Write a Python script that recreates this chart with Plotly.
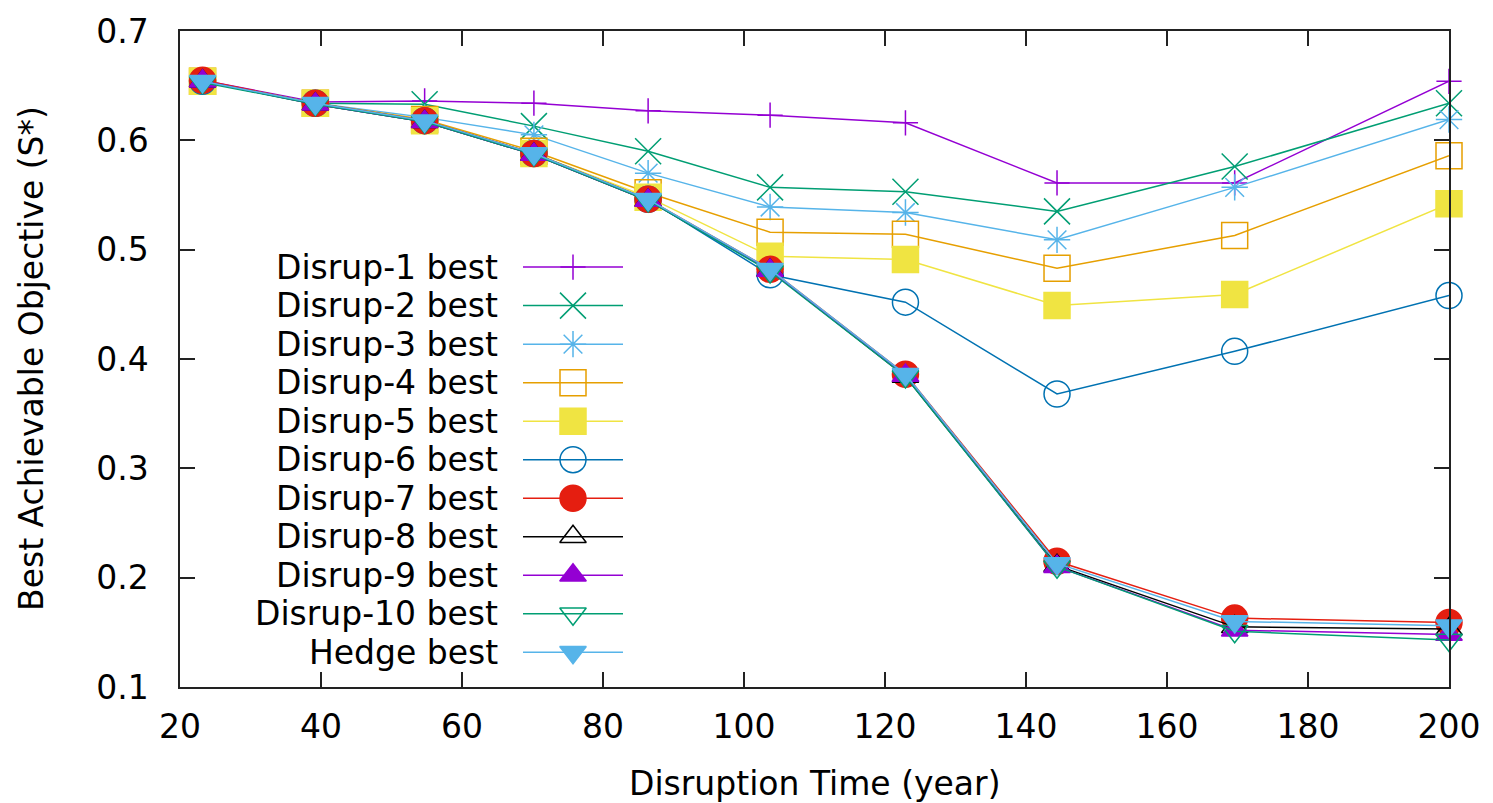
import plotly.graph_objects as go

# ---------------- data ----------------
x_years = [23.2, 39.2, 54.7, 70.2, 86.4, 103.7, 122.9, 144.4, 169.6, 200]

disrup_1 = [0.655, 0.635, 0.636, 0.634, 0.627, 0.623, 0.616, 0.561, 0.561, 0.654]
disrup_2 = [0.654, 0.634, 0.633, 0.613, 0.590, 0.557, 0.553, 0.535, 0.576, 0.634]
disrup_3 = [0.654, 0.634, 0.621, 0.605, 0.570, 0.539, 0.534, 0.509, 0.557, 0.619]
disrup_4 = [0.654, 0.634, 0.619, 0.590, 0.552, 0.516, 0.514, 0.483, 0.513, 0.586]
disrup_5 = [0.654, 0.634, 0.618, 0.588, 0.548, 0.494, 0.491, 0.449, 0.459, 0.542]
disrup_6 = [0.654, 0.634, 0.618, 0.588, 0.546, 0.477, 0.452, 0.368, 0.407, 0.458]
disrup_7 = [0.655, 0.634, 0.618, 0.588, 0.546, 0.482, 0.386, 0.215, 0.163, 0.159]
disrup_8 = [0.654, 0.633, 0.617, 0.587, 0.545, 0.481, 0.384, 0.211, 0.155, 0.153]
disrup_9 = [0.654, 0.633, 0.617, 0.587, 0.545, 0.481, 0.385, 0.210, 0.152, 0.148]
disrup_10 = [0.653, 0.633, 0.617, 0.587, 0.545, 0.480, 0.384, 0.210, 0.151, 0.143]
hedge = [0.654, 0.634, 0.618, 0.588, 0.546, 0.482, 0.386, 0.213, 0.160, 0.156]

series_names = ["Disrup-1 best", "Disrup-2 best", "Disrup-3 best", "Disrup-4 best",
                "Disrup-5 best", "Disrup-6 best", "Disrup-7 best", "Disrup-8 best",
                "Disrup-9 best", "Disrup-10 best", "Hedge best"]
series_values = [disrup_1, disrup_2, disrup_3, disrup_4, disrup_5, disrup_6,
                 disrup_7, disrup_8, disrup_9, disrup_10, hedge]

x_ticks = [20, 40, 60, 80, 100, 120, 140, 160, 180, 200]
y_ticks = [0.1, 0.2, 0.3, 0.4, 0.5, 0.6, 0.7]

# ---------------- styles ----------------
colors = ["#9400D3", "#009E73", "#56B4E9", "#E69F00", "#F0E442", "#0072B2",
          "#E51E10", "#000000", "#9400D3", "#009E73", "#56B4E9"]
symbols = ["cross-thin-open", "x-thin-open", "asterisk-open", "square-open", "square",
           "circle-open", "circle", "triangle-up-open", "triangle-up",
           "triangle-down-open", "triangle-down"]
sizes = [18, 26, 22, 26, 26, 26, 26, 23, 23, 23, 23]

FONT = "DejaVu Sans"
FS = 33

fig = go.Figure()

for name, vals, c, s, sz in zip(series_names, series_values, colors, symbols, sizes):
    fig.add_trace(go.Scatter(
        x=x_years, y=vals, name=name, mode="lines+markers",
        line=dict(color=c, width=1.5),
        marker=dict(symbol=s, size=sz, color=c, opacity=1,
                    line=dict(color=c, width=1.5)),
        cliponaxis=False, showlegend=False,
    ))

# ---------------- manual gnuplot-style legend (text left, sample right) ----------------
leg_text_right = 500
leg_line_x0, leg_mark_x, leg_line_x1 = 523, 573, 623
leg_y0, leg_dy = 260.7, 39.1
annotations = []
for i, (name, c, s, sz) in enumerate(zip(series_names, colors, symbols, sizes)):
    yy = leg_y0 + leg_dy * i
    fig.add_trace(go.Scatter(
        x=[leg_line_x0, leg_mark_x, leg_line_x1], y=[yy, yy, yy],
        xaxis="x2", yaxis="y2", mode="lines+markers",
        line=dict(color=c, width=1.5),
        marker=dict(symbol=s, size=[0, sz, 0], color=c, opacity=1,
                    line=dict(color=c, width=1.5)),
        showlegend=False, hoverinfo="skip", cliponaxis=False,
    ))
    annotations.append(dict(
        x=leg_text_right, y=yy, xref="x2", yref="y2", text=name, showarrow=False,
        xanchor="right", yanchor="middle", font=dict(family=FONT, size=FS, color="black"),
    ))

# axis titles
annotations.append(dict(
    x=0.5, y=0, xref="paper", yref="paper", yshift=-96, text="Disruption Time (year)",
    showarrow=False, xanchor="center", yanchor="middle",
    font=dict(family=FONT, size=FS, color="black"),
))
annotations.append(dict(
    x=0, y=0.5, xref="paper", yref="paper", xshift=-149, text="Best Achievable Objective (S*)",
    showarrow=False, xanchor="center", yanchor="middle", textangle=-90,
    font=dict(family=FONT, size=FS, color="black"),
))

axis_common = dict(
    showline=True, linecolor="#222222", linewidth=1.5, mirror="ticks",
    ticks="inside", ticklen=15, tickwidth=1.5, tickcolor="#222222",
    showgrid=False, zeroline=False,
    tickfont=dict(family=FONT, size=FS, color="black"),
)

fig.update_layout(
    width=1493, height=803,
    margin=dict(l=180, r=44, t=21, b=116),
    paper_bgcolor="white", plot_bgcolor="white",
    showlegend=False,
    xaxis=dict(range=[20, 200], tickvals=x_ticks, ticklabelstandoff=10, **axis_common),
    yaxis=dict(range=[0.1, 0.7], tickvals=y_ticks, tickformat=".1f", ticklabelstandoff=23,
               **axis_common),
    xaxis2=dict(range=[180, 1449], overlaying="x", anchor="y2", visible=False),
    yaxis2=dict(range=[687, 21], overlaying="y", anchor="x2", visible=False),
    annotations=annotations,
)

fig.write_html("out.html")
